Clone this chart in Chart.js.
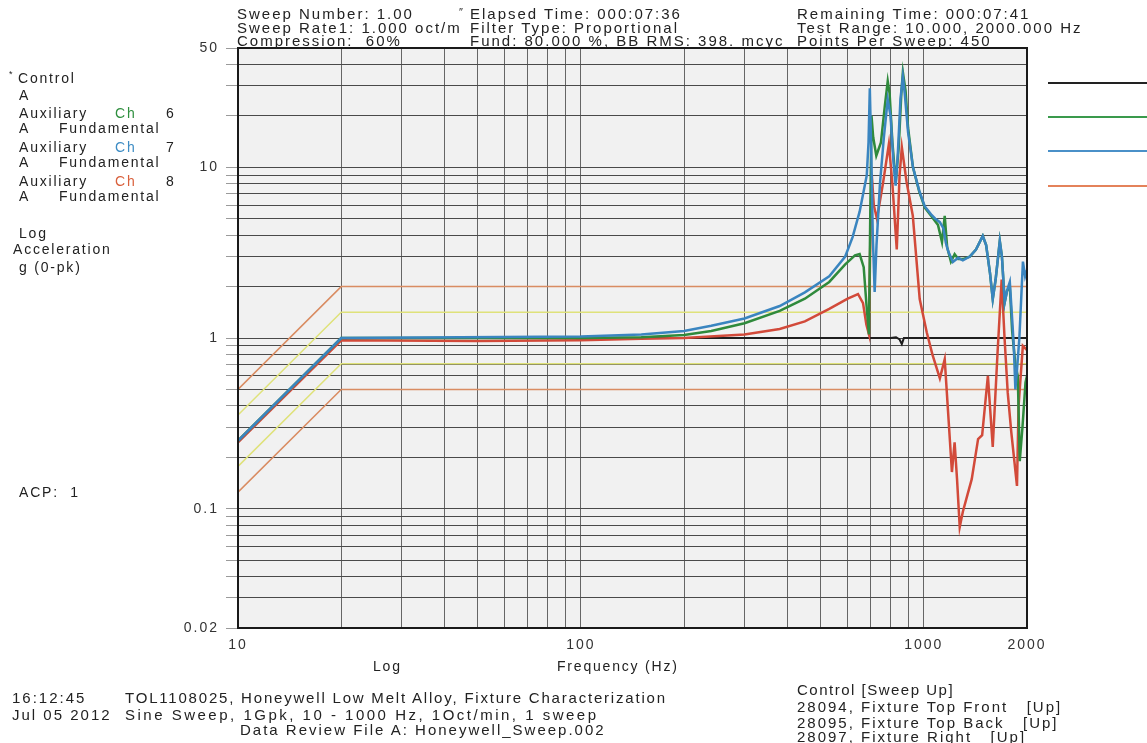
<!DOCTYPE html>
<html>
<head>
<meta charset="utf-8">
<script src="https://cdn.jsdelivr.net/npm/chart.js@4.4.1/dist/chart.umd.min.js"></script>
<style>
  body { margin: 0; background: #fff; }
  #wrap { position: relative; width: 1147px; height: 743px; overflow: hidden;
          font-family: "Liberation Sans", Arial, sans-serif; font-size: 15px; color: #222;
          letter-spacing: 2px; }
  #wrap canvas { position: absolute; left: 0; top: 0; }
  .t { position: absolute; white-space: pre; line-height: 16px; }
  .lg { font-size: 14px; letter-spacing: 1.8px; }
  .sw { position: absolute; left: 1048px; width: 99px; height: 2px; }
</style>
</head>
<body>
<div id="wrap">
  <canvas id="grafico_sweep" width="1147" height="743"></canvas>

  <!-- cabecalho -->
  <div class="t" style="left:237px;top:6px">Sweep Number: 1.00</div>
  <div class="t" style="left:237px;top:20px">Sweep Rate1: 1.000 oct/m</div>
  <div class="t" style="left:237px;top:33px">Compression:  60%</div>
  <div class="t" style="left:459px;top:4px;font-size:11px">″</div>
  <div class="t" style="left:470px;top:6px">Elapsed Time: 000:07:36</div>
  <div class="t" style="left:470px;top:20px">Filter Type: Proportional</div>
  <div class="t" style="left:470px;top:33px">Fund: 80.000 %, BB RMS: 398. mcyc</div>
  <div class="t" style="left:797px;top:6px">Remaining Time: 000:07:41</div>
  <div class="t" style="left:797px;top:20px">Test Range: 10.000, 2000.000 Hz</div>
  <div class="t" style="left:797px;top:33px">Points Per Sweep: 450</div>

  <!-- legenda esquerda -->
  <div class="t lg" style="left:9px;top:66px;font-size:9px">*</div>
  <div class="t lg" style="left:18px;top:70px">Control</div>
  <div class="t lg" style="left:19px;top:87px">A</div>
  <div class="t lg" style="left:19px;top:105px">Auxiliary</div>
  <div class="t lg" style="left:115px;top:105px;color:#2f8f3f">Ch</div>
  <div class="t lg" style="left:166px;top:105px">6</div>
  <div class="t lg" style="left:19px;top:120px">A</div>
  <div class="t lg" style="left:59px;top:120px">Fundamental</div>
  <div class="t lg" style="left:19px;top:139px">Auxiliary</div>
  <div class="t lg" style="left:115px;top:139px;color:#3d8cc4">Ch</div>
  <div class="t lg" style="left:166px;top:139px">7</div>
  <div class="t lg" style="left:19px;top:154px">A</div>
  <div class="t lg" style="left:59px;top:154px">Fundamental</div>
  <div class="t lg" style="left:19px;top:173px">Auxiliary</div>
  <div class="t lg" style="left:115px;top:173px;color:#d9603c">Ch</div>
  <div class="t lg" style="left:166px;top:173px">8</div>
  <div class="t lg" style="left:19px;top:188px">A</div>
  <div class="t lg" style="left:59px;top:188px">Fundamental</div>
  <div class="t lg" style="left:19px;top:225px">Log</div>
  <div class="t lg" style="left:13px;top:241px">Acceleration</div>
  <div class="t lg" style="left:19px;top:259px">g (0-pk)</div>
  <div class="t lg" style="left:19px;top:484px">ACP:  1</div>

  <!-- amostras de linha a direita -->
  <div class="sw" style="top:82px;background:#222"></div>
  <div class="sw" style="top:116px;background:#3a9a4c"></div>
  <div class="sw" style="top:150px;background:#4a90c8"></div>
  <div class="sw" style="top:185px;background:#e4825a"></div>

  <!-- titulos do eixo x -->
  <div class="t lg" style="left:373px;top:658px">Log</div>
  <div class="t lg" style="left:557px;top:658px">Frequency (Hz)</div>

  <!-- rodape -->
  <div class="t" style="left:12px;top:690px">16:12:45</div>
  <div class="t" style="left:125px;top:690px;letter-spacing:1.8px">TOL1108025, Honeywell Low Melt Alloy, Fixture Characterization</div>
  <div class="t" style="left:12px;top:707px">Jul 05 2012</div>
  <div class="t" style="left:125px;top:707px;letter-spacing:2.5px">Sine Sweep, 1Gpk, 10 - 1000 Hz, 1Oct/min, 1 sweep</div>
  <div class="t" style="left:240px;top:722px">Data Review File A: Honeywell_Sweep.002</div>
  <div class="t" style="left:797px;top:682px;letter-spacing:1.5px">Control [Sweep Up]</div>
  <div class="t" style="left:797px;top:699px">28094, Fixture Top Front   [Up]</div>
  <div class="t" style="left:797px;top:715px">28095, Fixture Top Back   [Up]</div>
  <div class="t" style="left:797px;top:729px">28097, Fixture Right   [Up]</div>
</div>

<script>
// eixos
var freqTicks = [10, 20, 30, 40, 50, 60, 70, 80, 90, 100, 200, 300, 400, 500, 600, 700, 800, 900, 1000, 2000];
var freqLabels = [10, 100, 1000, 2000];
var accelTicks = [0.02, 0.03, 0.04, 0.05, 0.06, 0.07, 0.08, 0.09, 0.1, 0.2, 0.3, 0.4, 0.5, 0.6, 0.7, 0.8, 0.9,
                  1, 2, 3, 4, 5, 6, 7, 8, 9, 10, 20, 30, 40, 50];
var accelLabels = [0.02, 0.1, 1, 10, 50];

// perfil de controle e limites
var limitFreq = [10, 20, 2000];
var abortHigh = [0.5, 2, 2];
var abortLow = [0.125, 0.5, 0.5];
var alarmHigh = [0.354, 1.414, 1.414];
var alarmLow = [0.177, 0.707, 0.707];

var controlFreq = [10, 20, 100, 400, 700, 800, 830, 850, 863, 875, 890, 1000, 2000];
var controlAmp = [0.25, 1, 1, 1, 1, 1, 1.01, 0.98, 0.92, 1.0, 1.0, 1, 1];

// canal 6 (verde)
var ch6Freq = [10, 20, 100, 150, 200, 240, 300, 380, 450, 530, 590, 630, 650, 668, 680, 692, 697, 704,
               712, 727, 750, 770, 785, 795, 810, 828, 845, 860, 869, 885, 900, 930, 970, 1007, 1050,
               1100, 1130, 1151, 1170, 1200, 1230, 1260, 1300, 1362, 1420, 1486, 1520, 1560, 1589,
               1620, 1666, 1690, 1722, 1750, 1782, 1810, 1850, 1880, 1905, 1940, 1980, 2000];
var ch6Amp = [0.25, 1, 1, 1.01, 1.04, 1.1, 1.22, 1.44, 1.7, 2.13, 2.7, 3.05, 3.1, 2.6, 1.6, 1.05, 4, 20,
              15, 11.7, 14, 23, 32, 27, 14, 8.2, 13, 27, 36, 28, 17, 10, 7.2, 5.8, 5.2,
              4.6, 3.65, 5.2, 3.4, 2.8, 3.1, 2.9, 2.9, 3.0, 3.3, 3.96, 3.5, 2.4, 1.69,
              2.2, 3.7, 3.0, 1.62, 1.9, 2.0, 1.1, 0.7, 0.6, 0.19, 0.3, 0.55, 0.6];

// canal 7 (azul)
var ch7Freq = [10, 20, 100, 150, 200, 240, 300, 380, 450, 530, 590, 620, 650, 670, 682, 690, 696, 703,
               710, 719, 728, 745, 765, 785, 800, 815, 828, 840, 855, 869, 880, 900, 930, 970, 1007,
               1050, 1080, 1114, 1140, 1160, 1180, 1216, 1260, 1300, 1362, 1420, 1486, 1520, 1560,
               1589, 1620, 1666, 1690, 1722, 1750, 1782, 1810, 1830, 1850, 1870, 1900, 1946, 1975, 2000];
var ch7Amp = [0.25, 1, 1.02, 1.05, 1.1, 1.18, 1.3, 1.54, 1.85, 2.3, 3.0, 3.9, 5.5, 7.5, 9.0, 14, 29, 12,
              4, 1.86, 3.5, 8, 15, 25, 20, 11, 7.8, 12, 25, 34, 27, 16, 10, 7.3, 5.9,
              5.3, 5.0, 4.77, 4.4, 3.6, 3.2, 2.79, 2.95, 2.85, 3.0, 3.3, 3.96, 3.5, 2.4,
              1.69, 2.2, 3.7, 3.0, 1.62, 1.9, 2.13, 1.3, 0.9, 0.5, 0.65, 1.0, 2.8, 2.3, 2.5];

// canal 8 (vermelho)
var ch8Freq = [10, 20, 50, 100, 150, 200, 300, 380, 450, 530, 600, 643, 665, 680, 692, 697, 705, 715,
               730, 760, 791, 810, 834, 850, 863, 891, 929, 973, 1020, 1060, 1114, 1151, 1208, 1230,
               1250, 1273, 1300, 1340, 1380, 1440, 1480, 1538, 1589, 1640, 1687, 1720, 1757, 1800,
               1870, 1890, 1945, 2000];
var ch8Amp = [0.245, 0.97, 0.96, 0.97, 0.99, 1.0, 1.05, 1.13, 1.25, 1.48, 1.7, 1.81, 1.6, 1.2, 1.05, 3, 9.1, 6,
              5.0, 8, 13.7, 8, 3.3, 9, 13.1, 8.2, 5.2, 1.69, 1.08, 0.8, 0.58, 0.75, 0.164, 0.245,
              0.15, 0.078, 0.096, 0.12, 0.149, 0.256, 0.27, 0.6, 0.23, 0.8, 2.2, 1.0, 0.48, 0.28,
              0.136, 0.4, 0.9, 0.85];

function pontos(freq, amp) {
  return freq.map(function(f, i) { return { x: f, y: amp[i] }; });
}

var fundoGrafico = {
  id: 'fundoGrafico',
  beforeDraw: function(chart) {
    var ctx = chart.ctx, a = chart.chartArea;
    ctx.letterSpacing = '2px';
    ctx.save();
    ctx.fillStyle = '#f1f1f1';
    ctx.fillRect(a.left, a.top, a.right - a.left, a.bottom - a.top);
    ctx.restore();
  },
  afterDraw: function(chart) {
    var ctx = chart.ctx, a = chart.chartArea;
    ctx.save();
    ctx.strokeStyle = '#1a1a1a';
    ctx.lineWidth = 2;
    ctx.strokeRect(a.left, a.top, a.right - a.left, a.bottom - a.top);
    ctx.restore();
  }
};

function linha(label, data, color, width, order) {
  return { label: label, data: data, borderColor: color, borderWidth: width,
           pointRadius: 0, fill: false, tension: 0, order: order };
}

new Chart(document.getElementById('grafico_sweep'), {
  type: 'line',
  data: {
    datasets: [
      linha('Abort +', pontos(limitFreq, abortHigh), '#d98c62', 1.5, 9),
      linha('Abort -', pontos(limitFreq, abortLow), '#d98c62', 1.5, 9),
      linha('Alarm +', pontos(limitFreq, alarmHigh), '#dfe27a', 1.5, 9),
      linha('Alarm -', pontos(limitFreq, alarmLow), '#dfe27a', 1.5, 9),
      linha('Control', pontos(controlFreq, controlAmp), '#1e1e1e', 2, 5),
      linha('Ch 8', pontos(ch8Freq, ch8Amp), '#d24a3a', 2.5, 4),
      linha('Ch 6', pontos(ch6Freq, ch6Amp), '#2f8a3c', 2.5, 3),
      linha('Ch 7', pontos(ch7Freq, ch7Amp), '#3a85c0', 2.5, 2)
    ]
  },
  options: {
    responsive: false,
    animation: false,
    layout: { padding: { left: 0, right: 120, top: 48, bottom: 0 } },
    plugins: { legend: { display: false }, tooltip: { enabled: false } },
    scales: {
      x: {
        type: 'logarithmic', min: 10, max: 2000,
        afterFit: function(s) { s.height = 115; },
        afterBuildTicks: function(s) { s.ticks = freqTicks.map(function(v) { return { value: v }; }); },
        ticks: {
          autoSkip: false, maxRotation: 0, padding: 9, color: '#333',
          font: { family: 'Liberation Sans', size: 14 },
          callback: function(v) { return freqLabels.indexOf(v) >= 0 ? String(v) : ''; }
        },
        grid: { color: '#666', lineWidth: 1, drawTicks: false },
        border: { color: '#1a1a1a', width: 2 }
      },
      y: {
        type: 'logarithmic', min: 0.02, max: 50,
        afterFit: function(s) { s.width = 238; },
        afterBuildTicks: function(s) { s.ticks = accelTicks.map(function(v) { return { value: v }; }); },
        ticks: {
          autoSkip: false, padding: 7, color: '#333',
          font: { family: 'Liberation Sans', size: 14 },
          callback: function(v) { return accelLabels.indexOf(v) >= 0 ? String(v) : ''; }
        },
        grid: { color: '#4a4a4a', lineWidth: 1, tickLength: 12, tickColor: '#9a9a9a' },
        border: { color: '#1a1a1a', width: 2 }
      }
    }
  },
  plugins: [fundoGrafico]
});
</script>
</body>
</html>
